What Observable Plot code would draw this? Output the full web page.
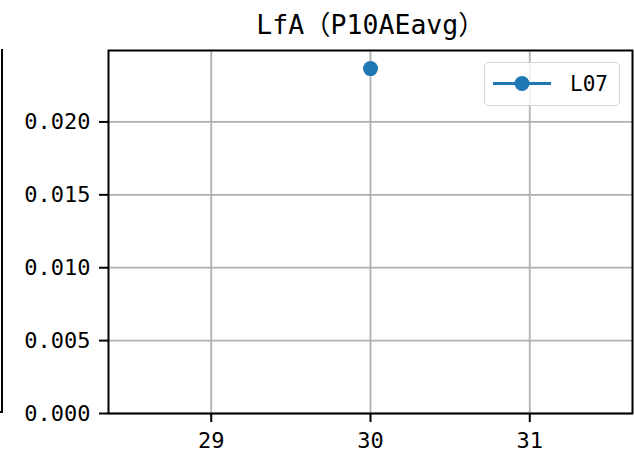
<!DOCTYPE html>
<html><head><meta charset="utf-8">
<script src="https://cdn.jsdelivr.net/npm/d3@7"></script>
<script src="https://cdn.jsdelivr.net/npm/@observablehq/plot@0.6"></script>
<style>
body{margin:0;background:#fff;}
#wrap{position:relative;width:634px;height:456px;overflow:hidden;font-family:"DejaVu Sans Mono","Noto Sans CJK SC",monospace;}
#neighbor{position:absolute;left:0;top:49px;width:1px;height:362px;border-right:2px solid #000;border-bottom:2px solid #000;}
#legend{position:absolute;left:484px;top:62px;width:134px;height:42px;border:1.5px solid rgba(204,204,204,0.8);border-radius:5px;background:rgba(255,255,255,0.8);}
#legend svg{position:absolute;left:0;top:0;}
#legend span{position:absolute;left:85px;top:8px;font-size:21px;line-height:26px;color:#000;}
</style></head><body><div id="wrap"><div id="neighbor"></div></div>
<script>
const title = "LfA（P10AEavg）";
const seriesName = "L07";
const xs = [30];
const ys = [0.02366];
const xTicks = [29, 30, 31];
const yTicks = [0, 0.005, 0.010, 0.015, 0.020];
const xDomain = [28.355, 31.645];
const yDomain = [0, 0.0249];
const color = "#1f77b4";

const data = xs.map((x, i) => ({x, y: ys[i]}));
const font = '"DejaVu Sans Mono","Noto Sans CJK SC",monospace';

const chart = Plot.plot({
  width: 634, height: 456,
  marginLeft: 108, marginRight: 2, marginTop: 50, marginBottom: 43,
  style: {fontFamily: font, fontSize: "22px", color: "#000", background: "#fff", overflow: "visible"},
  x: {domain: xDomain},
  y: {domain: yDomain},
  marks: [
    Plot.gridX(xTicks, {stroke: "#b0b0b0", strokeOpacity: 1, strokeWidth: 1.8}),
    Plot.gridY(yTicks, {stroke: "#b0b0b0", strokeOpacity: 1, strokeWidth: 1.8}),
    Plot.axisX({ticks: xTicks, tickSize: 9, tickPadding: 10, tickFormat: d => String(d), label: null, strokeWidth: 2}),
    Plot.axisY({ticks: yTicks, tickSize: 9, tickPadding: 9, tickFormat: d3.format(".3f"), label: null, strokeWidth: 2}),
    Plot.frame({stroke: "#000", strokeWidth: 2}),
    Plot.lineY(data, {x: "x", y: "y", stroke: color, strokeWidth: 3}),
    Plot.dot(data, {x: "x", y: "y", r: 7.5, fill: color}),
    Plot.text([title], {frameAnchor: "top", dy: -25, lineAnchor: "middle", fontSize: 26.5, text: d => d})
  ]
});
const wrap = document.getElementById("wrap");
wrap.prepend(chart);
chart.style.position = "absolute";
chart.style.left = "0";
chart.style.top = "0";

const leg = document.createElement("div");
leg.id = "legend";
const ls = d3.create("svg").attr("width", 80).attr("height", 42);
ls.append("line").attr("x1", 8).attr("x2", 66).attr("y1", 20.5).attr("y2", 20.5).attr("stroke", color).attr("stroke-width", 3);
ls.append("circle").attr("cx", 37).attr("cy", 20.5).attr("r", 7.5).attr("fill", color);
leg.appendChild(ls.node());
const sp = document.createElement("span");
sp.textContent = seriesName;
leg.appendChild(sp);
wrap.appendChild(leg);
</script>
</body></html>
